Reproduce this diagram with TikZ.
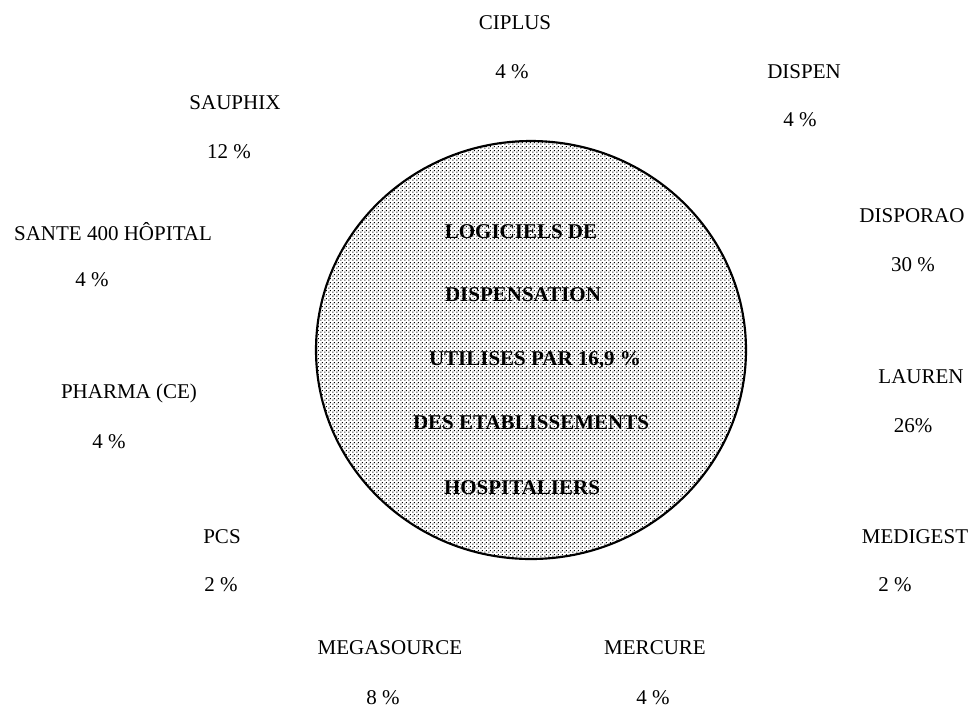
\documentclass[tikz,border=0pt]{standalone}
\usepackage{fontspec}
\setmainfont{Liberation Serif}
\usepackage{tikz}
\usetikzlibrary{patterns.meta}
\tikzdeclarepattern{
  name=halftone,
  type=uncolored,
  bottom left={(0pt,0pt)},
  top right={(3pt,3pt)},
  tile size={(3pt,3pt)},
  code={
    \fill (0.3pt,0.3pt) rectangle (1.3pt,1.3pt);
    \fill (1.8pt,1.8pt) rectangle (2.8pt,2.8pt);
  }
}
\tikzset{
  soft/.style={inner sep=0pt, font=\fontsize{15.75}{19}\selectfont},
  share/.style={soft},
  title/.style={inner sep=0pt, font=\fontsize{15.75}{19}\selectfont\bfseries},
}

\begin{document}
\begin{tikzpicture}[x=0.75pt, y=-0.75pt]
      \useasboundingbox (0,0) rectangle (968,708);
      % circle
      \draw[line width=1.6pt, pattern={halftone}, pattern color=black]
        (531,350) ellipse [x radius=215, y radius=209];
      % title inside the circle
      \foreach \txt/\x/\y [count=\i] in {
          LOGICIELS DE/521/232,
          DISPENSATION/523/295,
          UTILISES PAR 16{,}9 \%/535/360,
          DES ETABLISSEMENTS/531/423,
          HOSPITALIERS/522/488}{
        \node[title] (t\i) at (\x,\y) {\txt};
      }
      % software names and shares
      \foreach \nm/\txt/\pct/\x/\y/\px/\py in {
          ciplus/CIPLUS/4 \%/515/23/512/72,
          dispen/DISPEN/4 \%/804/72/800/120,
          sauphix/SAUPHIX/12 \%/235/103/229/152,
          sante/SANTE 400 HÔPITAL/4 \%/113/232/92/280,
          disporao/DISPORAO/30 \%/912/216/913/265,
          pharma/PHARMA (CE)/4 \%/129/393/109/442,
          lauren/LAUREN/26\%/921/377/913/426,
          pcs/PCS/2 \%/222/537/221/585,
          medigest/MEDIGEST/2 \%/915/537/895/585,
          megasource/MEGASOURCE/8 \%/390/648/383/698,
          mercure/MERCURE/4 \%/655/648/653/698}{
        \node[soft] (\nm) at (\x,\y) {\txt};
        \node[share] (\nm-pct) at (\px,\py) {\pct};
      }
\end{tikzpicture}
\end{document}
